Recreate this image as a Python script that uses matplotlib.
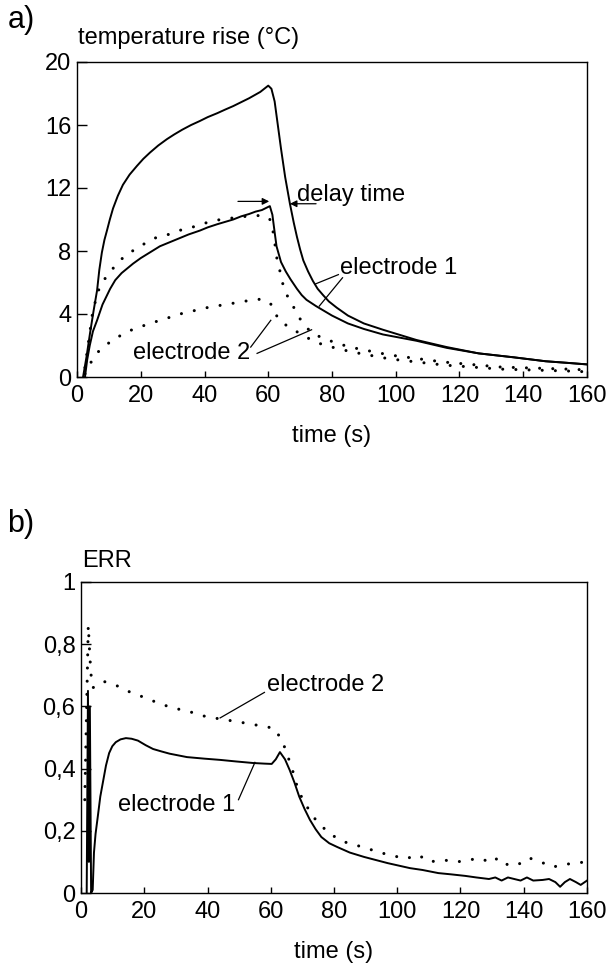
import matplotlib
matplotlib.use("Agg")
import matplotlib.pyplot as plt

plt.rcParams['font.family'] = ['Liberation Sans', 'DejaVu Sans']

# ---------------- data: panel a (temperature rise, degC) ----------------
t_e1_upper = [1.9, 3.0, 4.1, 5.2, 6.3, 7.0, 7.8, 8.6, 9.4, 10.3, 11.3, 12.8, 14.4, 16.5, 18.8,
              20.8, 22.9, 25.5, 28.2, 30.5, 33, 35.8, 38.5, 41, 44, 46.5, 49, 51.5, 54, 57.5,
              60, 61, 62, 63, 64, 65.3, 66.8, 68, 69, 70, 71, 72.5, 74, 75.5, 77.2, 79, 81.5,
              85, 90, 96, 106.5, 116, 126, 137, 147, 153.7, 160]
T_e1_upper = [0.0, 1.3, 2.8, 4.2, 5.5, 6.8, 7.9, 8.7, 9.3, 10.0, 10.7, 11.5, 12.2, 12.85, 13.4,
              13.85, 14.25, 14.7, 15.1, 15.4, 15.7, 16.0, 16.25, 16.5, 16.75, 16.98, 17.2, 17.45,
              17.7, 18.1, 18.5, 18.3, 17.5, 16.0, 14.5, 12.7, 11.0, 9.8, 8.9, 8.1, 7.4, 6.7, 6.1,
              5.6, 5.2, 4.8, 4.4, 3.9, 3.4, 3.0, 2.35, 1.9, 1.5, 1.25, 1.0, 0.9, 0.8]

t_e1_lower = [2.5, 3.2, 4.0, 5.0, 6.3, 8.0, 10.4, 12, 14, 15.8, 17.6, 20, 22, 24, 26, 29, 32,
              35, 38.6, 41, 44, 46.5, 49, 51.5, 54, 56, 58, 59.5, 60.5, 61.3, 62, 62.6, 63.3,
              64, 65.5, 67, 69, 70.5, 72, 75, 80, 85, 90, 96, 106.5, 116, 126, 137, 147,
              153.7, 160]
T_e1_lower = [0.0, 1.1, 2.0, 2.9, 3.6, 4.6, 5.6, 6.15, 6.6, 6.9, 7.2, 7.55, 7.8, 8.05, 8.3, 8.55,
              8.8, 9.05, 9.3, 9.5, 9.7, 9.85, 10.0, 10.2, 10.35, 10.5, 10.6, 10.75, 10.85,
              10.3, 9.2, 8.3, 7.8, 7.3, 6.7, 6.2, 5.6, 5.2, 4.9, 4.5, 3.9, 3.4, 3.05, 2.7, 2.3,
              1.85, 1.5, 1.25, 1.0, 0.9, 0.8]

t_e2_upper = [2.5, 5, 7.2, 10.4, 15, 19.8, 24, 28, 32, 36, 40.7, 45, 49, 53, 57, 59.5, 61,
              61.6, 62.2, 62.8, 63.7, 64.7, 66.3, 68.5, 70.5, 73.6, 77.3, 81.5, 85.6, 98, 115,
              133, 154, 160]
T_e2_upper = [0.6, 4.25, 5.8, 6.7, 7.7, 8.3, 8.8, 9.0, 9.3, 9.5, 9.8, 10.0, 10.1, 10.2, 10.25, 10.2,
              9.9, 9.1, 8.3, 7.4, 6.7, 5.8, 5.0, 4.25, 3.5, 2.8, 2.45, 2.15, 1.9, 1.4, 0.95,
              0.63, 0.5, 0.45]

t_e2_lower = [2.5, 5.6, 8.8, 12.5, 16, 20, 24.5, 28.5, 32.3, 36.5, 40.7, 45, 49.5, 53.8, 58,
              61, 62.6, 64, 66.3, 70, 74, 77.8, 82, 86, 98, 115, 133, 154, 160]
T_e2_lower = [0.2, 1.4, 2.0, 2.5, 2.9, 3.2, 3.5, 3.75, 4.0, 4.2, 4.4, 4.55, 4.7, 4.85, 4.95,
              4.6, 3.9, 3.5, 3.2, 2.75, 2.3, 2.0, 1.8, 1.6, 1.15, 0.76, 0.5, 0.38, 0.33]

# ---------------- data: panel b (ERR) ----------------
t_err1 = [1.8, 2.2, 2.5, 2.8, 3.2, 3.7, 4.1, 4.6, 5.3, 6.1, 7.0, 7.9, 8.9, 9.9, 11, 12.5, 14.2,
          16, 18, 20.5, 22.8, 25.5, 28, 33.5, 39, 44, 49, 54.4, 58, 60.3, 61.6, 62.9, 64.5,
          66, 67.5, 69, 70.7, 72.4, 74.2, 76, 78.5, 81, 85, 89.5, 97, 104, 108, 113, 117,
          121.5, 125, 129, 131, 133, 135, 137, 139, 141, 143, 146, 148, 150, 151.5, 153,
          154.6, 156.5, 158, 160]
E_err1 = [0.0, 0.65, 0.1, 0.6, 0.0, 0.01, 0.13, 0.19, 0.245, 0.31, 0.36, 0.41, 0.45, 0.472,
          0.485, 0.494, 0.498, 0.496, 0.49, 0.475, 0.463, 0.455, 0.448, 0.437, 0.432, 0.428,
          0.423, 0.418, 0.416, 0.415, 0.43, 0.453, 0.43, 0.395, 0.355, 0.31, 0.27, 0.235,
          0.205, 0.18, 0.16, 0.148, 0.13, 0.116, 0.096, 0.08, 0.074, 0.064, 0.06, 0.055, 0.05,
          0.045, 0.05, 0.04, 0.05, 0.045, 0.04, 0.05, 0.04, 0.042, 0.045, 0.035, 0.02, 0.035,
          0.045, 0.035, 0.026, 0.04]

t_err2 = [1.2, 2.3, 2.8, 3.2, 3.8, 5.0, 7.3, 11.7, 15.5, 19.7, 23.4, 27.5, 31.3, 35.4, 40.2,
          44, 48, 52.8, 57, 61, 63, 65, 66, 67.6, 68.6, 70.8, 73, 75.6, 78.7, 83, 90, 94.5,
          98.7, 102.5, 106.8, 110, 114.7, 118.9, 122.6, 126, 129.9, 131.8, 135, 138, 141.6,
          145.4, 149, 152, 155.8, 160]
E_err2 = [0.3, 0.86, 0.76, 0.70, 0.66, 0.67, 0.68, 0.665, 0.646, 0.63, 0.615, 0.60, 0.59,
          0.58, 0.565, 0.56, 0.553, 0.545, 0.537, 0.53, 0.50, 0.455, 0.42, 0.373, 0.33, 0.29,
          0.25, 0.22, 0.19, 0.165, 0.145, 0.13, 0.12, 0.11, 0.122, 0.10, 0.106, 0.10, 0.106,
          0.112, 0.097, 0.113, 0.09, 0.09, 0.113, 0.10, 0.083, 0.09, 0.096, 0.10]

xticks = [0, 20, 40, 60, 80, 100, 120, 140, 160]
yticks_a = [0, 4, 8, 12, 16, 20]
yticks_b = [0, 0.2, 0.4, 0.6, 0.8, 1.0]
yticklabels_b = ['0', '0,2', '0,4', '0,6', '0,8', '1']

# ---------------- figure ----------------
W, H = 607, 966
fig = plt.figure(figsize=(W / 100, H / 100), dpi=100)
fs = 17
solid_kw = dict(color='black', lw=1.4, solid_joinstyle='round')
dot_kw = dict(color='black', lw=2.2, linestyle=(0, (0.01, 4.3)), dash_capstyle='round')


def style(ax):
    for s in ax.spines.values():
        s.set_linewidth(1.0)
    ax.set_xlim(0, 160)
    ax.set_xticks(xticks)
    ax.tick_params(axis='both', direction='in', labelsize=fs, width=1.0)
    ax.tick_params(axis='y', length=7, pad=4)
    ax.tick_params(axis='x', length=4, pad=6)
    ax.set_xlabel('time (s)', fontsize=fs, labelpad=13)


ax1 = fig.add_axes([77 / W, 1 - 377 / H, 510 / W, 315 / H])
style(ax1)
ax1.set_ylim(0, 20)
ax1.set_yticks(yticks_a)
ax1.plot(t_e1_upper, T_e1_upper, **solid_kw)
ax1.plot(t_e1_lower, T_e1_lower, **solid_kw)
ax1.plot(t_e2_upper, T_e2_upper, **dot_kw)
ax1.plot(t_e2_lower, T_e2_lower, **dot_kw)

arr = dict(arrowstyle='-|>', color='black', lw=0.9, mutation_scale=10, shrinkA=0, shrinkB=0)
ax1.annotate('', xy=(60.3, 11.15), xytext=(50.5, 11.15), arrowprops=arr)
ax1.annotate('', xy=(66.8, 11.0), xytext=(75.0, 11.0), arrowprops=arr)
ax1.text(69.0, 11.15, 'delay time', fontsize=fs, ha='left', va='baseline')

ax1.text(82.5, 6.9, 'electrode 1', fontsize=fs, ha='left', va='center')
line_kw = dict(color='black', lw=0.9)
ax1.plot([82.0, 74.7], [6.5, 5.9], **line_kw)
ax1.plot([83.3, 76.0], [6.3, 4.5], **line_kw)

ax1.text(17.6, 1.55, 'electrode 2', fontsize=fs, ha='left', va='center')
ax1.plot([54.5, 60.8], [1.9, 3.6], **line_kw)
ax1.plot([56.5, 73.6], [1.5, 3.0], **line_kw)

fig.text(8 / W, 1 - 28 / H, 'a)', fontsize=22, ha='left', va='baseline')
fig.text(78 / W, 1 - 44 / H, 'temperature rise (\u00b0C)', fontsize=fs, ha='left', va='baseline')

ax2 = fig.add_axes([81 / W, 1 - 893 / H, 506 / W, 311 / H])
style(ax2)
ax2.set_ylim(0, 1)
ax2.set_yticks(yticks_b)
ax2.set_yticklabels(yticklabels_b)
ax2.plot(t_err1, E_err1, **solid_kw)
ax2.plot(t_err2, E_err2, **dot_kw)

ax2.text(58.8, 0.67, 'electrode 2', fontsize=fs, ha='left', va='center')
ax2.plot([58.0, 44.0], [0.645, 0.563], **line_kw)
ax2.text(11.7, 0.283, 'electrode 1', fontsize=fs, ha='left', va='center')
ax2.plot([49.8, 55.0], [0.30, 0.42], **line_kw)

fig.text(7 / W, 1 - 532 / H, 'b)', fontsize=22, ha='left', va='baseline')
fig.text(82 / W, 1 - 567 / H, 'ERR', fontsize=fs, ha='left', va='baseline')

fig.savefig('out.png', dpi=100)
